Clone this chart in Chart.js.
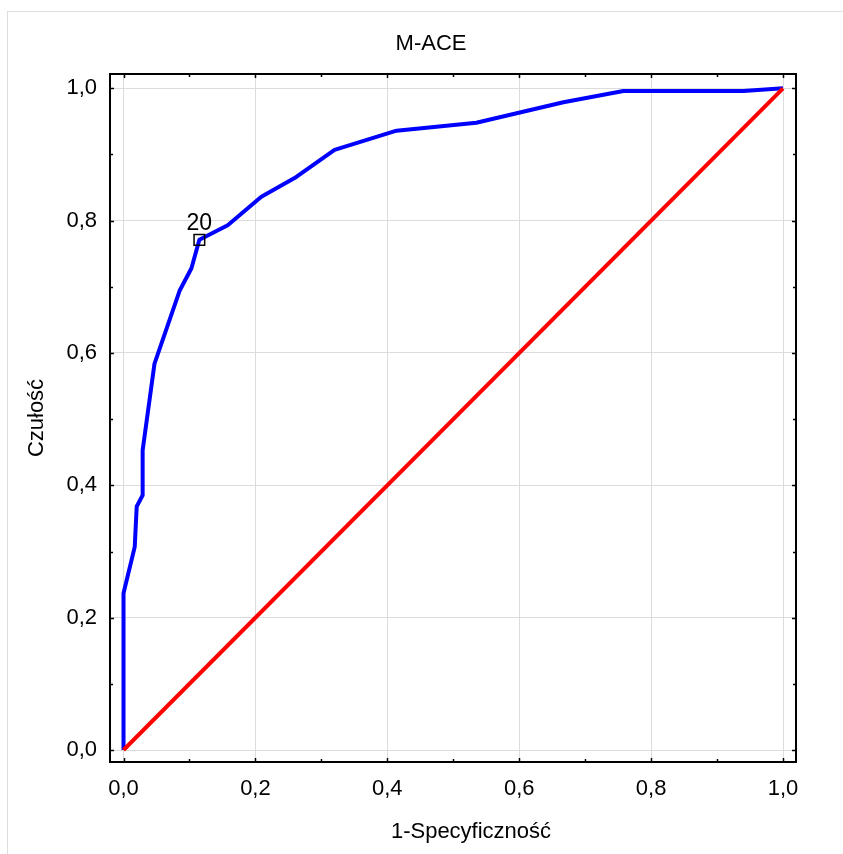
<!DOCTYPE html>
<html>
<head>
<meta charset="utf-8">
<title>M-ACE</title>
<script src="https://cdn.jsdelivr.net/npm/chart.js@4.4.1/dist/chart.umd.min.js"></script>
<style>
  html, body { margin: 0; padding: 0; background: #fff; overflow: hidden; }
  canvas { display: block; }
</style>
</head>
<body>
<canvas id="roc"></canvas>
<script>
// ROC curve for M-ACE: 1-specificity vs sensitivity
const fpr = [0, 0, 0.017, 0.020, 0.029, 0.029, 0.047, 0.085, 0.103, 0.115, 0.158, 0.209, 0.262, 0.320, 0.414, 0.535, 0.667, 0.758, 0.940, 1.0];
const tpr = [0, 0.237, 0.307, 0.368, 0.385, 0.453, 0.584, 0.694, 0.728, 0.771, 0.793, 0.836, 0.866, 0.907, 0.936, 0.948, 0.979, 0.996, 0.996, 1.0];

// reference line (random classifier)
const diagX = [0, 1];
const diagY = [0, 1];

// cut-off point marked on the curve
const cutoffIndex = 9;
const cutoffLabel = '20';

const tickValues = [0, 0.2, 0.4, 0.6, 0.8, 1.0];
const tickLabels = ['0,0', '0,2', '0,4', '0,6', '0,8', '1,0'];
const minorValues = [0.1, 0.3, 0.5, 0.7, 0.9];

const chartTitle = 'M-ACE';
const xTitle = '1-Specyficzność';
const yTitle = 'Czułość';

const FONT = "'Liberation Sans', Arial, sans-serif";
const W = 843, H = 854;

const canvas = document.getElementById('roc');
canvas.width = W;
canvas.height = H;
canvas.style.width = W + 'px';
canvas.style.height = H + 'px';

const toPoints = (xs, ys) => xs.map((x, i) => ({ x, y: ys[i] }));

// light outer figure border (runs off the right and bottom edges)
const figureBorder = {
  id: 'figureBorder',
  beforeDraw(chart) {
    const { ctx } = chart;
    ctx.save();
    ctx.strokeStyle = '#dedede';
    ctx.lineWidth = 1;
    ctx.strokeRect(7.5, 11.5, W + 20, H + 20);
    ctx.restore();
  },
};

// black box round the plot area with inward ticks on all four sides
const plotFrame = {
  id: 'plotFrame',
  afterDraw(chart) {
    const { ctx, chartArea: a, scales } = chart;
    ctx.save();
    ctx.strokeStyle = '#000';
    ctx.lineWidth = 2;
    ctx.strokeRect(a.left, a.top, a.right - a.left, a.bottom - a.top);

    ctx.lineWidth = 1.5;
    const tick = (v, len) => {
      const px = Math.round(scales.x.getPixelForValue(v)) + 0.5;
      const py = Math.round(scales.y.getPixelForValue(v)) + 0.5;
      ctx.beginPath();
      ctx.moveTo(px, a.top); ctx.lineTo(px, a.top + len);
      ctx.moveTo(px, a.bottom); ctx.lineTo(px, a.bottom - len);
      ctx.moveTo(a.left, py); ctx.lineTo(a.left + len, py);
      ctx.moveTo(a.right, py); ctx.lineTo(a.right - len, py);
      ctx.stroke();
    };
    tickValues.forEach(v => tick(v, 4));
    minorValues.forEach(v => tick(v, 3));
    ctx.restore();
  },
};

// chart title and x-axis title, centred on the whole figure rather than the plot box
const captions = {
  id: 'captions',
  afterDraw(chart) {
    const { ctx, chartArea: a } = chart;
    ctx.save();
    ctx.fillStyle = '#000';
    ctx.font = `22px ${FONT}`;
    ctx.textAlign = 'center';
    ctx.textBaseline = 'middle';
    ctx.fillText(chartTitle, a.left + 321, a.top - 30);
    ctx.fillText(xTitle, a.left + 361, a.bottom + 70);
    ctx.restore();
  },
};

// text label above the cut-off marker
const cutoffText = {
  id: 'cutoffText',
  afterDatasetsDraw(chart) {
    const pt = chart.getDatasetMeta(0).data[0];
    if (!pt) return;
    const { ctx } = chart;
    ctx.save();
    ctx.fillStyle = '#000';
    ctx.font = `23px ${FONT}`;
    ctx.textAlign = 'center';
    ctx.textBaseline = 'middle';
    ctx.fillText(cutoffLabel, pt.x, pt.y - 16);
    ctx.restore();
  },
};

const axisCommon = tickPadding => ({
  type: 'linear',
  afterBuildTicks: s => { s.ticks = tickValues.map(value => ({ value })); },
  grid: { color: '#dcdcdc', lineWidth: 1, drawTicks: false },
  border: { display: false },
  ticks: {
    padding: tickPadding,
    color: '#000',
    autoSkip: false,
    maxRotation: 0,
    font: { family: FONT, size: 22 },
    callback: (v, i) => tickLabels[i],
  },
});

new Chart(canvas, {
  type: 'scatter',
  data: {
    datasets: [
      {
        label: 'cut-off',
        data: [{ x: fpr[cutoffIndex], y: tpr[cutoffIndex] }],
        pointStyle: 'rect',
        pointRadius: 7.5,
        pointBorderWidth: 1.5,
        pointBorderColor: '#000',
        pointBackgroundColor: 'rgba(0,0,0,0)',
        showLine: false,
      },
      {
        label: 'diagonal',
        data: toPoints(diagX, diagY),
        showLine: true,
        borderColor: '#ff0000',
        borderWidth: 4,
        pointRadius: 0,
        tension: 0,
      },
      {
        label: chartTitle,
        data: toPoints(fpr, tpr),
        showLine: true,
        borderColor: '#0000ff',
        borderWidth: 4,
        borderJoinStyle: 'round',
        pointRadius: 0,
        tension: 0,
      },
    ],
  },
  options: {
    responsive: false,
    devicePixelRatio: 1,
    animation: false,
    events: [],
    layout: { padding: { left: 0, top: 74, right: W - 796, bottom: 0 } },
    scales: {
      x: {
        ...axisCommon(14),
        min: -0.0205,
        max: 1.0197,
        afterFit: s => { s.height = 92; },
      },
      y: {
        ...axisCommon(13),
        min: -0.0181,
        max: 1.0216,
        afterFit: s => { s.width = 110; },
        title: {
          display: true,
          text: yTitle,
          color: '#000',
          font: { family: FONT, size: 22 },
          padding: { top: 24, bottom: 0 },
        },
      },
    },
    plugins: {
      legend: { display: false },
      tooltip: { enabled: false },
      title: { display: false },
    },
  },
  plugins: [figureBorder, plotFrame, captions, cutoffText],
});
</script>
</body>
</html>
